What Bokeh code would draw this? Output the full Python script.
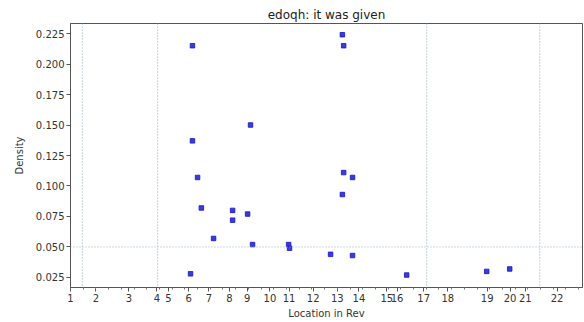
from bokeh.plotting import figure
from bokeh.models import FixedTicker, Span, Range1d, ColumnDataSource
from bokeh.embed import file_html
from bokeh.resources import INLINE

# Chapter start locations (verse index) and their labels
chapter_starts = [0, 20, 46, 68, 77, 93, 109, 125, 139, 157, 172, 191, 210, 227, 249, 257, 278, 297, 328, 346, 358, 383]
chapter_labels = [str(i) for i in range(1, 23)]

# Scatter data: location (verse index) and density
loc = [96, 96, 141.7, 214, 215, 100, 103, 112.6, 127.6, 127.6, 139.4, 143.3, 94.5,
       171.7, 172.4, 215, 222, 214, 204.7, 222, 264.6, 327.6, 345.7]
density = [0.215, 0.137, 0.150, 0.224, 0.215, 0.107, 0.082, 0.057, 0.080, 0.072, 0.077, 0.052, 0.028,
           0.052, 0.049, 0.111, 0.107, 0.093, 0.044, 0.043, 0.027, 0.030, 0.032]

vlines = [9.4, 68.5, 280.3, 369.3]
hline = 0.05
x_end = 403
y_ticks = [0.025, 0.05, 0.075, 0.1, 0.125, 0.15, 0.175, 0.2, 0.225]

p = figure(width=584, height=322, output_backend="svg", toolbar_location=None,
           title="edoqh: it was given",
           x_range=Range1d(0, x_end), y_range=Range1d(0.0168, 0.2332))
p.min_border_left = 70
p.min_border_right = 2
p.min_border_top = 23
p.min_border_bottom = 35

p.title.align = "center"
p.title.text_font = "DejaVu Sans"
p.title.text_font_size = "12px"
p.title.text_font_style = "normal"
p.title.text_color = "#222222"
p.title.standoff = 3
p.title.offset = 0

p.grid.visible = False
p.outline_line_color = "#555555"
p.outline_line_width = 1

p.xaxis.ticker = FixedTicker(ticks=chapter_starts, minor_ticks=list(range(0, x_end, 10)))
p.xaxis.major_label_overrides = {c: l for c, l in zip(chapter_starts, chapter_labels)}
p.yaxis.ticker = FixedTicker(ticks=y_ticks)
p.yaxis.major_label_overrides = {t: f"{t:.3f}" for t in y_ticks}

p.xaxis.axis_label = "Location in Rev"
p.yaxis.axis_label = "Density"
for ax in (p.xaxis, p.yaxis):
    ax.axis_label_text_font = "DejaVu Sans"
    ax.axis_label_text_font_size = "10px"
    ax.axis_label_text_font_style = "normal"
    ax.axis_label_text_color = "#333333"
    ax.major_label_text_font = "DejaVu Sans"
    ax.major_label_text_font_size = "10px"
    ax.major_label_text_color = "#333333"
    ax.axis_line_color = "#555555"
    ax.major_tick_line_color = "#555555"
    ax.minor_tick_line_color = "#777777"
    ax.major_tick_out = 4
    ax.major_tick_in = 0
    ax.minor_tick_out = 2
    ax.minor_tick_in = 0
    ax.major_label_standoff = 2
    ax.axis_label_standoff = 3
p.yaxis.minor_tick_line_color = None
p.yaxis.axis_label_standoff = 8

for v in vlines:
    p.add_layout(Span(location=v, dimension="height", line_color="#9bb7cc",
                      line_dash="1 2", line_width=1.2))
p.add_layout(Span(location=hline, dimension="width", line_color="#9bb7cc",
                  line_dash="1 2", line_width=1.2))

src = ColumnDataSource(dict(x=loc, y=density))
p.scatter("x", "y", source=src, size=4.5, marker="square", color="#1a1acc", alpha=0.85)

open("out.html", "w").write(file_html(p, INLINE))
